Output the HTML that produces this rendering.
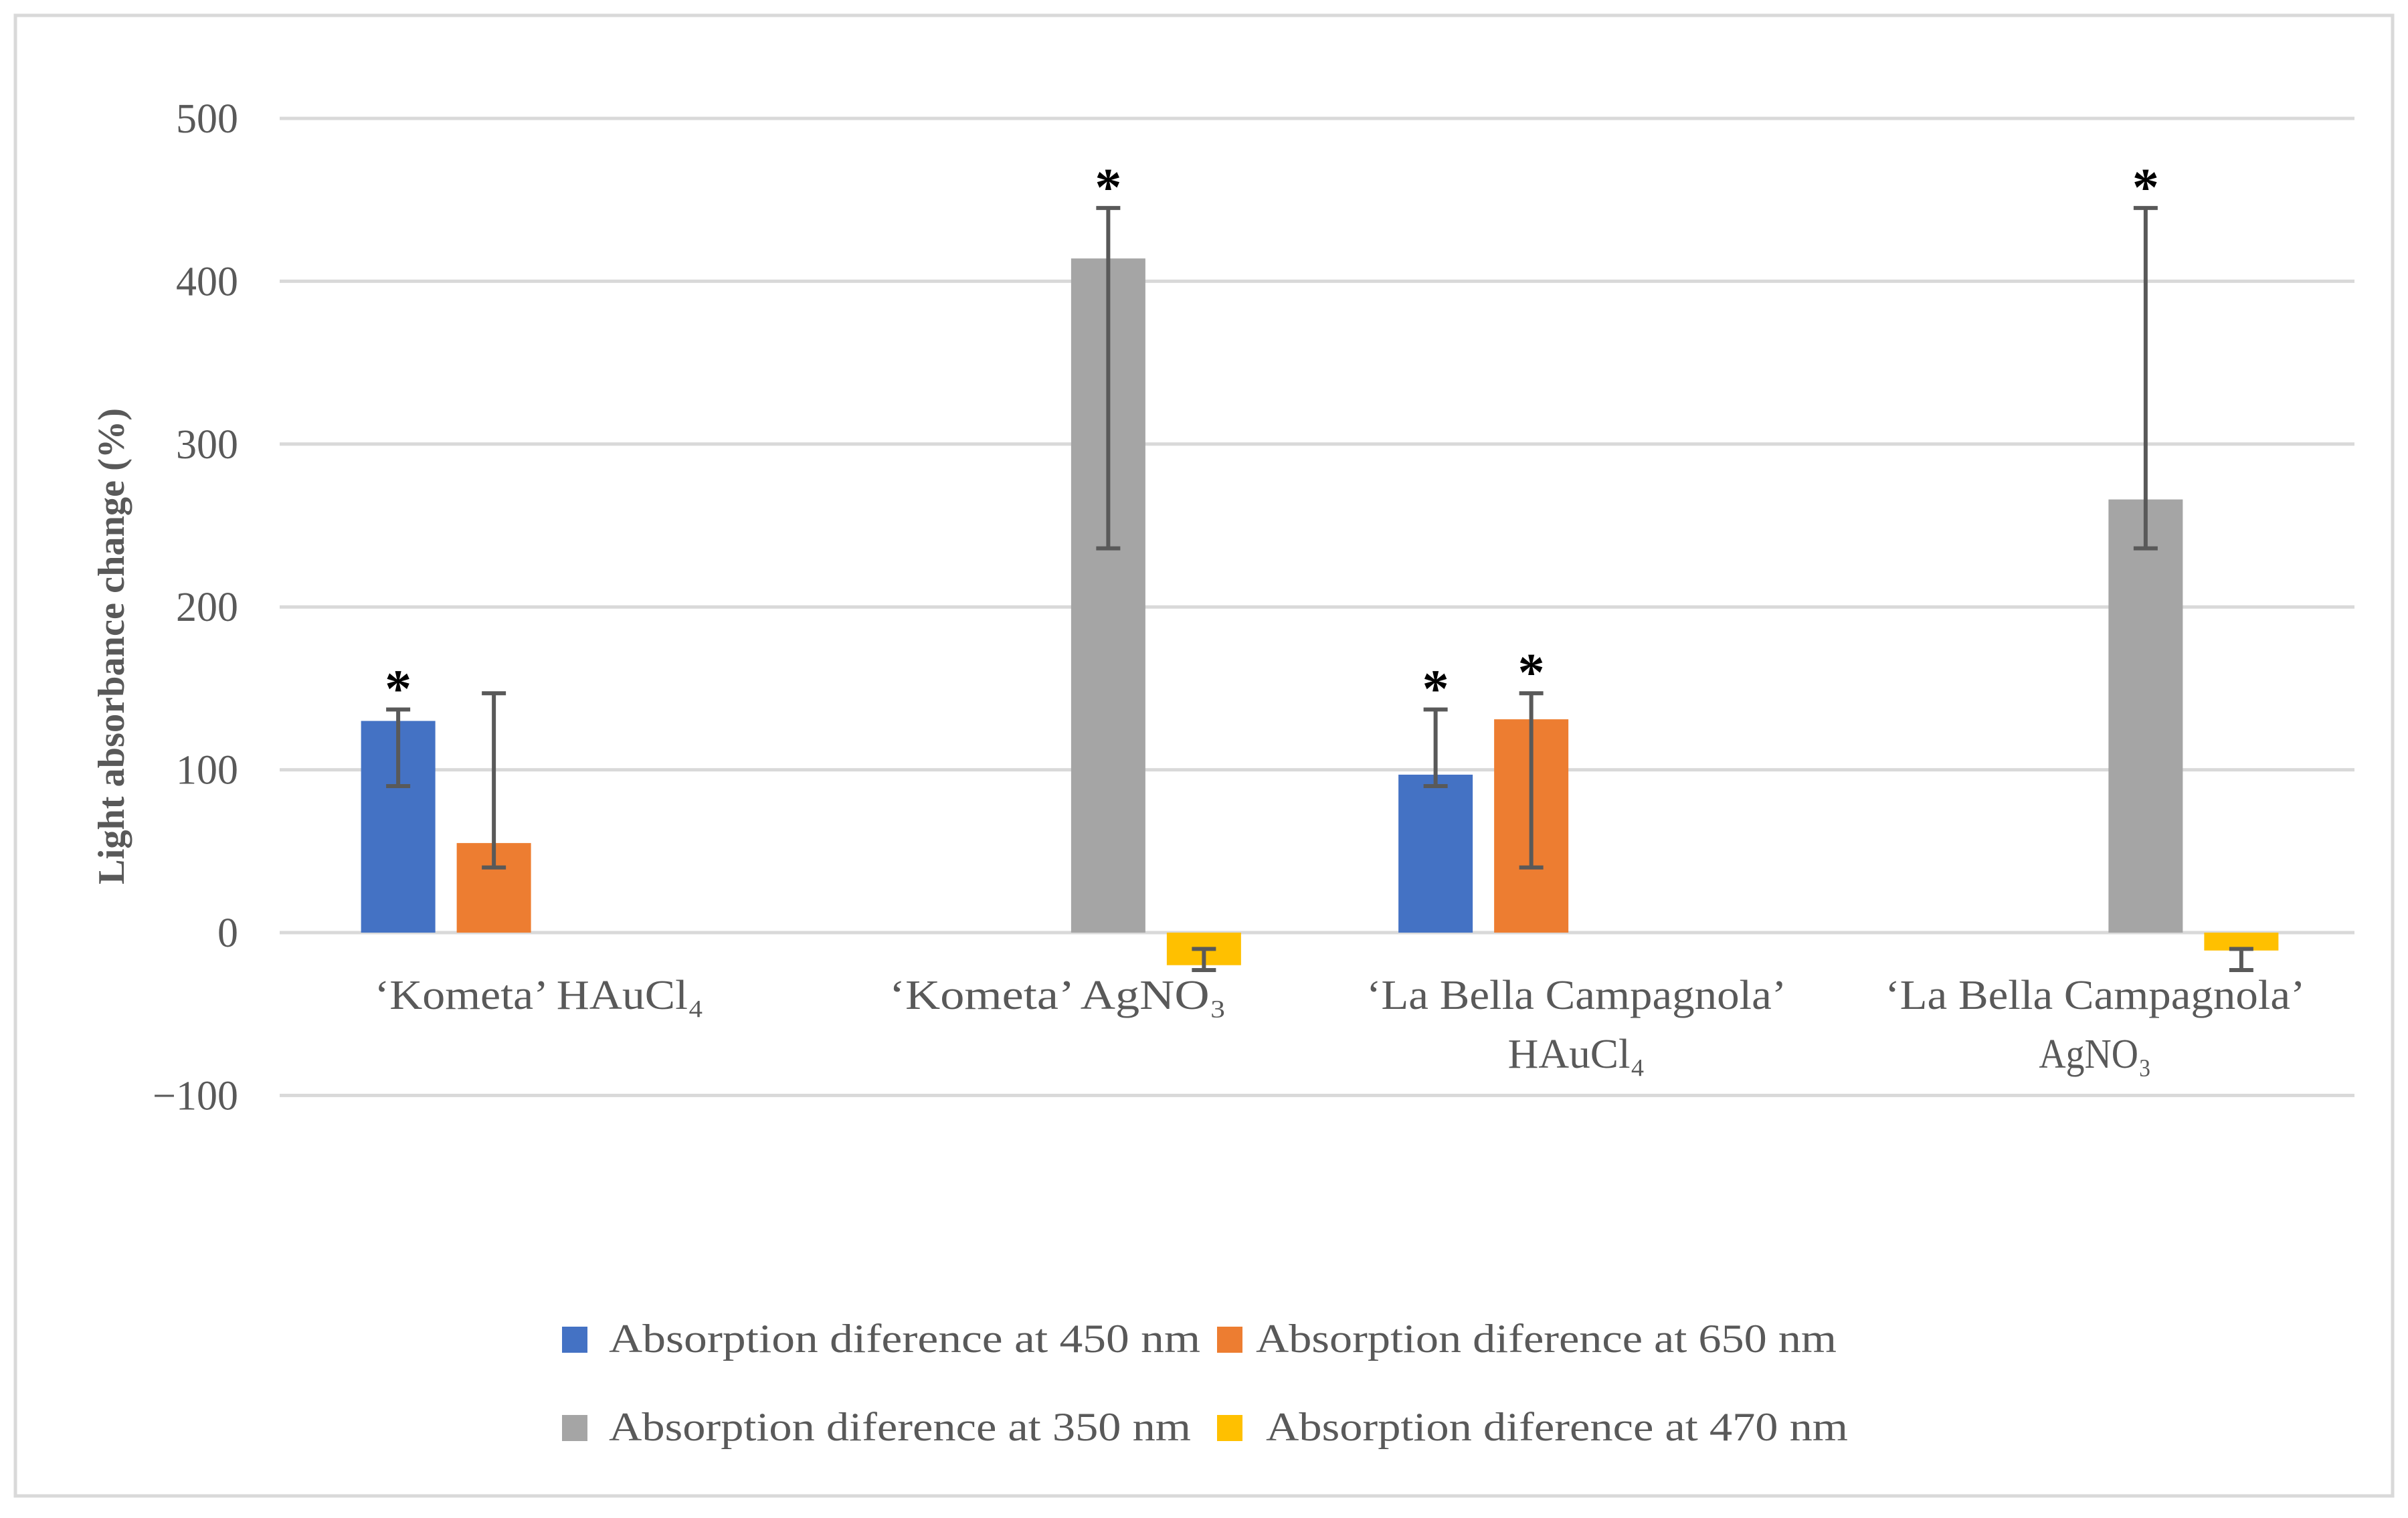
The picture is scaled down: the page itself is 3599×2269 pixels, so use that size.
<!DOCTYPE html>
<html><head><meta charset="utf-8"><style>
html,body{margin:0;padding:0;background:#fff;}
svg{display:block;font-family:"Liberation Serif",serif;}
</style></head><body>
<svg id="chart" width="3599" height="2269" viewBox="0 0 3599 2269" xmlns="http://www.w3.org/2000/svg">
<rect x="23" y="23" width="3553" height="2213" fill="#fff" stroke="#d9d9d9" stroke-width="5"/>
<g id="grid"></g><g id="bars"></g>
<text transform="translate(185,966) rotate(-90)" text-anchor="middle" font-size="56" font-weight="bold" fill="#595959" textLength="712" lengthAdjust="spacingAndGlyphs">Light absorbance change (%)</text>
<g id="legend"></g>
</svg>
<script>
const categories = [["‘Kometa’ HAuCl₄"],["‘Kometa’ AgNO₃"],["‘La Bella Campagnola’","HAuCl₄"],["‘La Bella Campagnola’","AgNO₃"]];
const seriesNames = ["Absorption  diference at 450 nm","Absorption diference at 650 nm","Absorption diference at 350 nm","Absorption diference at 470 nm"];
const seriesColors = ["#4472c4","#ed7d31","#a5a5a5","#ffc000"];
const s450 = [130, null, 97, null];
const s650 = [55, null, 131, null];
const s350 = [null, 414, null, 266];
const s470 = [null, -20, null, -11];
const errLow = [[90,null,90,null],[40,null,40,null],[null,236,null,236],[null,-23,null,-23]];
const errHigh = [[137,null,137,null],[147,null,147,null],[null,445,null,445],[null,-10,null,-10]];
const stars = [[true,false,true,false],[false,false,true,false],[false,true,false,true],[false,false,false,false]];
const yTicks = [-100,0,100,200,300,400,500];
const yTickLabels = ["\u2212100","0","100","200","300","400","500"];
const series = [s450,s650,s350,s470];

const NS="http://www.w3.org/2000/svg";
const L=418,R=3519,Y0=1394,PER=2.434;
const y=v=>Y0-v*PER;
const gw=(R-L)/categories.length, bw=111, gap=32;
const xBar=(c,s)=>L+gw*c+gw/2-(4*bw+3*gap)/2+s*(bw+gap)+4;
const catW=[[492],[504],[628,205],[628,168]];
function mk(tag,attrs,parent){const e=document.createElementNS(NS,tag);for(const k in attrs)e.setAttribute(k,attrs[k]);parent.appendChild(e);return e;}
const grid=document.getElementById('grid'),bars=document.getElementById('bars'),leg=document.getElementById('legend');
yTicks.forEach((t,i)=>{
  const g=mk('line',{x1:L,x2:R,y1:y(t),y2:y(t),stroke:'#d9d9d9','stroke-width':5},grid);
  
  
  const tx=mk('text',{x:356,y:y(t)+21,'text-anchor':'end','font-size':62,fill:'#595959'},grid);
  tx.textContent=yTickLabels[i];
  
  
});
categories.forEach((lines,c)=>{
  lines.forEach((ln,j)=>{
    const t=mk('text',{x:L+gw*c+gw/2,y:1508+j*88,'text-anchor':'middle','font-size':62,fill:'#595959',textLength:catW[c][j],lengthAdjust:'spacingAndGlyphs'},grid);
    t.textContent=ln;
    
    
  });
});
series.forEach((arr,s)=>{
  arr.forEach((v,c)=>{
    if(v===null)return;
    const x=xBar(c,s);
    const r=mk('rect',{x:x,y:Math.min(y(v),Y0),width:bw,height:Math.abs(y(v)-Y0),fill:seriesColors[s]},bars);
    
    
    const cx=x+bw/2, lo=y(errLow[s][c]), hi=y(errHigh[s][c]);
    const eb=mk('path',{d:`M${cx},${lo}V${hi}M${cx-18},${lo}H${cx+18}M${cx-18},${hi}H${cx+18}`,stroke:'#595959','stroke-width':6,fill:'none'},bars);
    
    
    if(stars[s][c]){
      const st=mk('text',{x:cx,y:hi-4,'text-anchor':'middle','font-size':80,'font-weight':'bold',fill:'#000'},bars);
      st.textContent='*';
      
      
    }
  });
});
const lx=[[840,910,884],[1819,1877,868],[840,910,870],[1819,1892,870]];
const ly=[1983,1983,2115,2115];
seriesNames.forEach((n,i)=>{
  const sq=mk('rect',{x:lx[i][0],y:ly[i],width:38,height:39,fill:seriesColors[i]},leg);
  
  
  const t=mk('text',{x:lx[i][1],y:ly[i]+38,'font-size':60,fill:'#595959',textLength:lx[i][2],lengthAdjust:'spacingAndGlyphs'},leg);
  t.textContent=n;
  
  
});
</script>
</body></html>
